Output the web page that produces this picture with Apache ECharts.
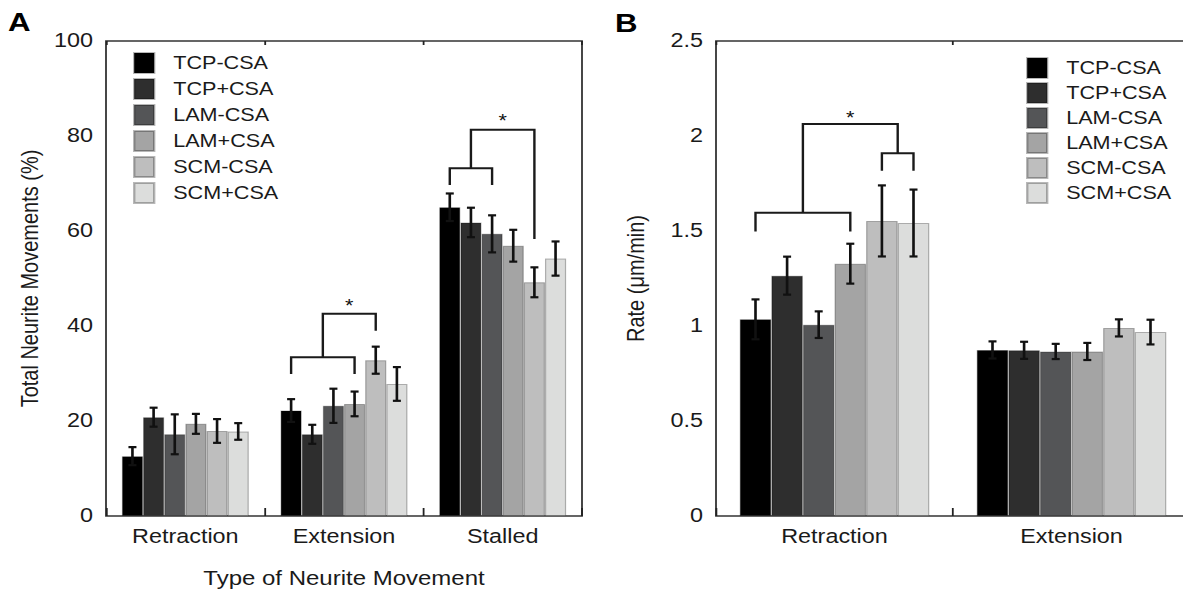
<!DOCTYPE html>
<html>
<head>
<meta charset="utf-8">
<script src="https://cdn.jsdelivr.net/npm/echarts@6/dist/echarts.min.js"></script>
<style>
html, body { margin: 0; padding: 0; background: #fff; overflow: hidden; }
/* the figure is horizontally stretched, so draw narrower and stretch */
#chart { width: 986px; height: 589px; transform: scaleX(1.2); transform-origin: 0 0; }
</style>
</head>
<body>
<div id="chart"></div>
<script>
// groups and categories
var groups = ['TCP-CSA', 'TCP+CSA', 'LAM-CSA', 'LAM+CSA', 'SCM-CSA', 'SCM+CSA'];
var movementTypes = ['Retraction', 'Extension', 'Stalled'];
var rateTypes = ['Retraction', 'Extension'];

// A: total neurite movements (%), per group over movementTypes
var pctMean = [
    [12.6, 22.2, 65.0],
    [20.8, 17.2, 61.8],
    [17.2, 23.2, 59.4],
    [19.4, 23.6, 56.9],
    [17.9, 32.8, 49.2],
    [17.8, 27.8, 54.2]
];
var pctErr = [
    [1.9, 2.4, 2.9],
    [2.0, 2.0, 3.1],
    [4.2, 3.6, 3.9],
    [2.1, 2.6, 3.35],
    [2.5, 2.85, 3.15],
    [1.75, 3.55, 3.6]
];

// B: rate (um/min), per group over rateTypes
var rateMean = [
    [1.035, 0.874],
    [1.265, 0.872],
    [1.007, 0.866],
    [1.328, 0.866],
    [1.553, 0.99],
    [1.542, 0.968]
];
var rateErr = [
    [0.105, 0.045],
    [0.10, 0.045],
    [0.07, 0.04],
    [0.105, 0.045],
    [0.187, 0.045],
    [0.176, 0.065]
];

// significance brackets: category, then [bar position, value] points
var bracketsA = [
    { cat: 1, pts: [[0, 29.9], [0, 33.4], [3, 33.4], [3, 29.9]] },
    { cat: 1, pts: [[1.5, 33.4], [1.5, 42.6], [4, 42.6], [4, 39.0]] },
    { cat: 2, pts: [[0, 69.7], [0, 73.2], [2, 73.2], [2, 69.7]] },
    { cat: 2, pts: [[1, 73.2], [1, 81.3], [4, 81.3], [4, 58.3]] }
];
var starsA = [[1, 2.75, 45.1], [2, 2.5, 84.0]];
var bracketsB = [
    { cat: 0, pts: [[0, 1.497], [0, 1.596], [3, 1.596], [3, 1.497]] },
    { cat: 0, pts: [[4, 1.817], [4, 1.909], [5, 1.909], [5, 1.817]] },
    { cat: 0, pts: [[1.5, 1.596], [1.5, 2.063], [4.5, 2.063], [4.5, 1.909]] }
];
var starsB = [[0, 3.0, 2.12]];

var colors = ['#000000', '#2e2e2e', '#545557', '#a4a4a4', '#bebebe', '#dcdddc'];
var font = 'Liberation Sans, Arial, sans-serif';
var txt = '#1a1a1a';
var SX = 1.2; // horizontal stretch of the page

var myChart = echarts.init(document.getElementById('chart'), null, { renderer: 'svg', width: 986, height: 589 });

function px(x) { return x / SX; }

function barW(api) {
    return api.size([1, 0])[0] * 0.8 / 6;
}

function errorSeries(axis, mean, err) {
    var data = [];
    for (var g = 0; g < mean.length; g++) {
        for (var c = 0; c < mean[g].length; c++) {
            data.push([c, mean[g][c], g, err[g][c]]);
        }
    }
    return {
        type: 'custom',
        xAxisIndex: axis, yAxisIndex: axis,
        z: 5, silent: true,
        data: data,
        renderItem: function (params, api) {
            var c = api.value(0), v = api.value(1), g = api.value(2), e = api.value(3);
            var bw = barW(api);
            var x = api.coord([c, v])[0] + (g - 2.5) * bw;
            var y1 = api.coord([c, v + e])[1];
            var y2 = api.coord([c, v - e])[1];
            var w = px(4);
            var st = { stroke: '#111', lineWidth: 2.2 };
            return {
                type: 'group',
                children: [
                    { type: 'line', shape: { x1: x, y1: y1, x2: x, y2: y2 }, style: st },
                    { type: 'line', shape: { x1: x - w, y1: y1, x2: x + w, y2: y1 }, style: st },
                    { type: 'line', shape: { x1: x - w, y1: y2, x2: x + w, y2: y2 }, style: st }
                ]
            };
        }
    };
}

function bracketSeries(axis, list) {
    return {
        type: 'custom',
        xAxisIndex: axis, yAxisIndex: axis,
        z: 6, silent: true,
        data: list.map(function (b, i) { return [b.cat, 0, i]; }),
        renderItem: function (params, api) {
            var b = list[api.value(2)];
            var bw = barW(api);
            var pts = b.pts.map(function (p) {
                var pt = api.coord([b.cat, p[1]]);
                return [pt[0] + (p[0] - 2.5) * bw, pt[1]];
            });
            return {
                type: 'polyline',
                shape: { points: pts },
                style: { stroke: '#1a1a1a', lineWidth: 2, fill: null }
            };
        }
    };
}

function starSeries(axis, list) {
    return {
        type: 'custom',
        xAxisIndex: axis, yAxisIndex: axis,
        z: 6, silent: true,
        data: list.map(function (s) { return [s[0], s[2], s[1]]; }),
        renderItem: function (params, api) {
            var bw = barW(api);
            var pt = api.coord([api.value(0), api.value(1)]);
            return {
                type: 'text',
                style: {
                    text: '*', x: pt[0] + (api.value(2) - 2.5) * bw, y: pt[1] + 4,
                    font: '18px ' + font, fill: '#111',
                    align: 'center', verticalAlign: 'middle',
                    textAlign: 'center', textVerticalAlign: 'middle'
                }
            };
        }
    };
}

var series = [];
groups.forEach(function (name, g) {
    series.push({
        name: name, type: 'bar', xAxisIndex: 0, yAxisIndex: 0,
        data: pctMean[g], barGap: '0%', barCategoryGap: '20%',
        itemStyle: { color: colors[g], borderColor: 'rgba(0,0,0,0.28)', borderWidth: 1 },
        silent: true
    });
});
groups.forEach(function (name, g) {
    series.push({
        name: name, type: 'bar', xAxisIndex: 1, yAxisIndex: 1,
        data: rateMean[g], barGap: '0%', barCategoryGap: '20%',
        itemStyle: { color: colors[g], borderColor: 'rgba(0,0,0,0.28)', borderWidth: 1 },
        silent: true
    });
});
series.push(errorSeries(0, pctMean, pctErr));
series.push(errorSeries(1, rateMean, rateErr));
series.push(bracketSeries(0, bracketsA));
series.push(bracketSeries(1, bracketsB));
series.push(starSeries(0, starsA));
series.push(starSeries(1, starsB));

function catAxis(grid, cats, name) {
    return {
        type: 'category', gridIndex: grid, data: cats,
        name: name, nameLocation: 'middle', nameGap: 52,
        nameTextStyle: { fontFamily: font, fontSize: 20, color: txt },
        axisLine: { show: false },
        axisTick: { show: true, inside: true, length: 8, lineStyle: { color: '#222', width: 1.5 } },
        axisLabel: { fontFamily: font, fontSize: 19.5, color: txt, margin: 11 },
        splitLine: { show: false }
    };
}
function topAxis(grid, cats) {
    return {
        type: 'category', gridIndex: grid, data: cats, position: 'top',
        axisLine: { show: false },
        axisTick: { show: true, inside: true, length: 4, lineStyle: { color: '#222', width: 1.5 } },
        axisLabel: { show: false }
    };
}
function valAxis(grid, max, interval, name, gap) {
    return {
        type: 'value', gridIndex: grid, min: 0, max: max, interval: interval,
        name: name, nameLocation: 'middle', nameGap: gap,
        nameTextStyle: { fontFamily: font, fontSize: 20, color: txt },
        axisLine: { show: false },
        axisTick: { show: false },
        axisLabel: { fontFamily: font, fontSize: 19.5, color: txt, margin: px(13) },
        splitLine: { show: false }
    };
}

function legendAt(left, top, gap) {
    return {
        data: groups, orient: 'vertical', left: px(left) - 5, top: top - 6,
        itemWidth: px(20), itemHeight: 20, itemGap: gap, icon: 'rect',
        textStyle: { fontFamily: font, fontSize: 18, color: txt, padding: [0, 0, 0, px(19) - 5] },
        selectedMode: false
    };
}

var option = {
    animation: false,
    grid: [
        { left: px(106), top: 41, width: px(476), height: 475, outerBoundsMode: 'none', containLabel: false,
          show: true, borderColor: '#333', borderWidth: 1.5 },
        { left: px(716), top: 41, width: px(474), height: 475, outerBoundsMode: 'none', containLabel: false,
          show: true, borderColor: '#333', borderWidth: 1.5 }
    ],
    legend: [
        legendAt(133, 53, 4),
        legendAt(1026, 58, 3)
    ],
    xAxis: [
        catAxis(0, movementTypes, 'Type of Neurite Movement'),
        catAxis(1, rateTypes, ''),
        topAxis(0, movementTypes),
        topAxis(1, rateTypes)
    ],
    yAxis: [
        valAxis(0, 100, 20, 'Total Neurite Movements (%)', px(64)),
        valAxis(1, 2.5, 0.5, 'Rate (\u03bcm/min)', px(68))
    ],
    graphic: [
        { type: 'text', left: px(8), top: 9, style: { text: 'A', font: 'bold 26px ' + font, fill: '#000' } },
        { type: 'text', left: px(615), top: 10, style: { text: 'B', font: 'bold 26px ' + font, fill: '#000' } }
    ],
    series: series
};

myChart.setOption(option);
</script>
</body>
</html>
